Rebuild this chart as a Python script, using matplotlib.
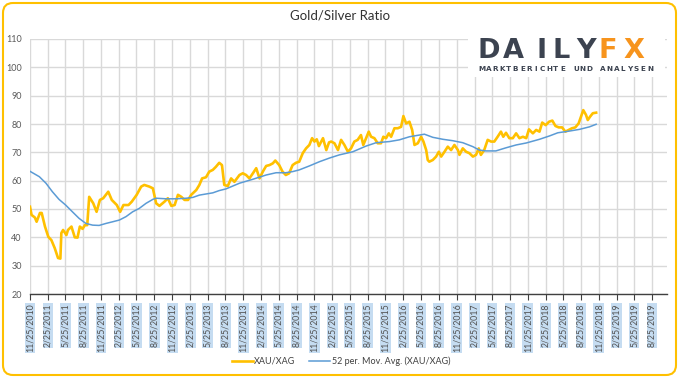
import matplotlib.pyplot as plt
from matplotlib.patches import FancyBboxPatch, Rectangle
from matplotlib.transforms import IdentityTransform
import pandas as pd

# gold/silver ratio
ratio_dates = [
    "2010-11-25", "2010-12-03", "2010-12-20", "2010-12-29", "2011-01-15", "2011-01-24",
    "2011-02-10", "2011-02-27", "2011-03-15", "2011-04-01", "2011-04-18", "2011-04-30",
    "2011-05-05", "2011-05-14", "2011-05-31", "2011-06-08", "2011-06-26", "2011-07-13",
    "2011-07-27", "2011-08-08", "2011-08-22", "2011-09-03", "2011-09-15", "2011-09-25",
    "2011-10-16", "2011-11-02", "2011-11-19", "2011-12-06", "2012-01-01", "2012-01-19",
    "2012-02-14", "2012-03-02", "2012-03-19", "2012-04-14", "2012-05-01", "2012-05-26",
    "2012-06-18", "2012-07-04", "2012-07-30", "2012-08-17", "2012-09-03", "2012-09-20",
    "2012-10-16", "2012-11-02", "2012-11-20", "2012-12-07", "2012-12-24", "2013-01-10",
    "2013-01-27", "2013-02-14", "2013-03-02", "2013-03-28", "2013-04-13", "2013-04-27",
    "2013-05-17", "2013-06-03", "2013-06-21", "2013-07-07", "2013-07-24", "2013-08-07",
    "2013-08-19", "2013-09-06", "2013-09-23", "2013-10-10", "2013-11-05", "2013-11-22",
    "2013-12-09", "2013-12-26", "2014-01-13", "2014-01-30", "2014-02-16", "2014-03-05",
    "2014-03-22", "2014-04-08", "2014-04-25", "2014-05-08", "2014-05-28", "2014-06-14",
    "2014-07-01", "2014-07-18", "2014-08-05", "2014-08-22", "2014-09-08", "2014-09-26",
    "2014-10-13", "2014-10-30", "2014-11-13", "2014-11-25", "2014-12-07", "2014-12-18",
    "2015-01-08", "2015-01-25", "2015-02-08", "2015-02-19", "2015-03-08", "2015-03-26",
    "2015-04-11", "2015-04-28", "2015-05-16", "2015-06-01", "2015-06-18", "2015-07-05",
    "2015-07-22", "2015-08-03", "2015-08-17", "2015-08-31", "2015-09-12", "2015-09-29",
    "2015-10-16", "2015-11-02", "2015-11-14", "2015-11-28", "2015-12-12", "2015-12-24",
    "2016-01-10", "2016-01-27", "2016-02-13", "2016-02-25", "2016-03-10", "2016-03-27",
    "2016-04-10", "2016-04-22", "2016-05-09", "2016-05-26", "2016-06-07", "2016-06-21",
    "2016-06-29", "2016-07-07", "2016-07-25", "2016-08-11", "2016-08-25", "2016-09-06",
    "2016-09-23", "2016-10-10", "2016-10-27", "2016-11-13", "2016-12-01", "2016-12-09",
    "2016-12-26", "2017-01-12", "2017-01-29", "2017-02-16", "2017-03-04", "2017-03-18",
    "2017-03-29", "2017-04-15", "2017-05-03", "2017-05-20", "2017-06-06", "2017-06-23",
    "2017-07-10", "2017-07-22", "2017-08-05", "2017-08-22", "2017-09-09", "2017-09-26",
    "2017-10-13", "2017-10-31", "2017-11-17", "2017-12-01", "2017-12-21", "2018-01-07",
    "2018-01-24", "2018-02-07", "2018-02-25", "2018-03-14", "2018-03-31", "2018-04-16",
    "2018-05-03", "2018-05-20", "2018-06-06", "2018-06-23", "2018-07-10", "2018-07-27",
    "2018-08-13", "2018-08-25", "2018-09-06", "2018-09-20", "2018-09-29", "2018-10-11",
    "2018-10-25", "2018-11-11",
]
ratio_values = [
    50.8, 47.9, 47.0, 45.5, 48.6, 48.6,
    43.8, 40.2, 39.0, 36.2, 32.7, 32.5,
    41.5, 42.6, 40.8, 42.6, 43.8, 40.0,
    39.9, 43.8, 43.0, 44.3, 44.3, 54.3,
    52.0, 49.0, 53.2, 53.8, 56.1, 53.2,
    51.4, 49.0, 51.4, 51.4, 52.6, 55.0,
    57.9, 58.5, 57.9, 57.3, 52.0, 51.1,
    52.6, 53.8, 51.1, 51.4, 55.0, 54.3,
    53.2, 53.2, 55.0, 56.7, 58.5, 60.8,
    61.2, 63.2, 63.8, 64.9, 66.3, 65.5,
    58.5, 58.1, 60.8, 59.6, 62.0, 62.6,
    62.0, 60.8, 62.6, 64.4, 60.8, 63.2,
    65.2, 65.5, 66.1, 67.1, 65.5, 63.2,
    62.0, 62.6, 65.5, 66.3, 66.7, 69.7,
    71.4, 72.6, 75.0, 73.8, 74.6, 72.2,
    75.0, 70.8, 73.5, 73.8, 73.2, 70.8,
    74.4, 72.6, 70.2, 71.4, 73.8, 74.4,
    76.1, 72.6, 75.0, 77.3, 75.5, 75.0,
    73.2, 73.2, 75.5, 75.0, 76.7, 75.5,
    78.5, 78.5, 79.0, 82.8, 80.2, 80.8,
    77.9, 72.6, 73.2, 75.5, 73.8, 70.8,
    67.3, 66.7, 67.3, 68.5, 70.2, 68.5,
    70.2, 72.0, 70.8, 72.6, 70.8, 69.1,
    71.4, 70.2, 69.7, 68.5, 69.1, 71.4,
    69.1, 70.8, 74.4, 73.8, 73.8, 75.5,
    77.3, 75.5, 76.9, 75.0, 75.0, 76.7,
    75.0, 75.5, 75.0, 78.1, 76.7, 77.9,
    77.3, 80.5, 79.6, 80.8, 81.2, 79.3,
    78.8, 78.8, 77.3, 77.9, 78.5, 78.8,
    80.2, 82.6, 84.9, 83.2, 81.4, 82.6,
    83.8, 84.0,
]

# 52 period moving average
ma_dates = [
    "2010-11-25", "2011-01-12", "2011-02-15", "2011-03-20", "2011-04-23", "2011-05-27",
    "2011-07-01", "2011-08-04", "2011-09-08", "2011-10-13", "2011-11-15", "2011-12-20",
    "2012-01-24", "2012-02-27", "2012-04-01", "2012-05-05", "2012-06-08", "2012-07-13",
    "2012-08-17", "2012-09-03", "2012-10-25", "2012-12-15", "2013-02-05", "2013-03-11",
    "2013-04-13", "2013-05-17", "2013-06-21", "2013-07-24", "2013-08-28", "2013-11-05",
    "2014-01-13", "2014-03-22", "2014-05-12", "2014-07-01", "2014-08-05", "2014-09-08",
    "2014-10-30", "2014-12-21", "2015-02-11", "2015-04-02", "2015-06-10", "2015-08-17",
    "2015-10-08", "2015-12-15", "2016-02-04", "2016-03-27", "2016-04-30", "2016-06-12",
    "2016-07-25", "2016-09-15", "2016-11-05", "2016-12-26", "2017-02-16", "2017-03-21",
    "2017-04-24", "2017-06-14", "2017-08-05", "2017-09-26", "2017-11-17", "2018-01-24",
    "2018-03-17", "2018-04-28", "2018-06-26", "2018-08-17", "2018-10-08", "2018-11-11",
]
ma_values = [
    63.3, 61.4, 59.1, 56.1, 53.4, 51.4,
    49.0, 46.7, 44.9, 44.3, 44.2, 44.9,
    45.5, 46.1, 47.3, 49.0, 50.2, 52.0,
    53.4, 53.8, 53.6, 53.6, 53.8, 54.1,
    54.9, 55.3, 55.7, 56.5, 57.1, 59.1,
    60.5, 62.0, 62.8, 62.8, 63.2, 63.8,
    65.2, 66.7, 68.0, 69.1, 70.2, 72.2,
    73.4, 73.8, 74.4, 75.5, 75.9, 76.4,
    75.3, 74.6, 74.1, 73.4, 72.0, 70.8,
    70.5, 70.5, 71.6, 72.6, 73.3, 74.6,
    75.8, 76.9, 77.5, 78.1, 79.0, 79.9,
]

yticks = [20, 30, 40, 50, 60, 70, 80, 90, 100, 110]
tick_dates = [pd.Timestamp(2010, 11, 25) + pd.DateOffset(months=3 * i) for i in range(36)]
tick_labels = [f"{d.month}/{d.day}/{d.year}" for d in tick_dates]

plt.rcParams['font.family'] = ['Lato', 'DejaVu Sans']

fig = plt.figure(figsize=(6.79, 3.78), dpi=100)
ax = fig.add_axes([30 / 679, 1 - 294 / 378, 637 / 679, 255 / 378])

ax.plot(pd.to_datetime(ratio_dates), ratio_values, color='#FFC000', lw=1.9,
        label='XAU/XAG', zorder=3)
ax.plot(pd.to_datetime(ma_dates), ma_values, color='#5B9BD5', lw=1.1,
        label='52 per. Mov. Avg. (XAU/XAG)', zorder=4)

ax.set_ylim(20, 110)
ax.set_yticks(yticks)
ax.set_xlim(pd.Timestamp('2010-11-25'), pd.Timestamp('2019-11-10'))
ax.set_xticks(tick_dates)
ax.set_xticklabels(tick_labels, rotation=90, fontsize=6.3, color='#505050', va='top')
for lbl in ax.get_xticklabels():
    lbl.set_bbox(dict(facecolor='#c5dcf1', edgecolor='none', pad=0.6))
ax.tick_params(axis='y', length=0, labelsize=6.5, labelcolor='#595959', pad=6)
ax.tick_params(axis='x', length=4, width=0.8, color='#404040', pad=3)

ax.grid(True, color='#d9d9d9', lw=1)
ax.set_axisbelow(True)
for s in ['top', 'right', 'left']:
    ax.spines[s].set_visible(False)
ax.spines['bottom'].set_color('#404040')
ax.spines['bottom'].set_linewidth(1)

fig.text(0.5, 1 - 16 / 378, 'Gold/Silver Ratio', ha='center', va='center',
         fontsize=9.5, color='#333333')

fig.legend(loc='center', bbox_to_anchor=(341 / 679, 1 - 361 / 378), ncol=2,
           frameon=False, fontsize=6.5, handlelength=2.3, handletextpad=0.2,
           columnspacing=1.5, labelcolor='#404040')

# logo box
fig.patches.append(Rectangle((468, 378 - 77), 197, 40, transform=IdentityTransform(),
                             facecolor='white', edgecolor='none', zorder=5))
logo = [('D', 489, '#3c4350'), ('A', 513, '#3c4350'), ('I', 542, '#3c4350'),
        ('L', 561, '#3c4350'), ('Y', 586, '#3c4350'), ('F', 608, '#f7941d'),
        ('X', 634, '#f7941d')]
for ch, px, col in logo:
    fig.text(px / 679, 1 - 51 / 378, ch, ha='center', va='center', fontsize=19.5,
             fontweight='heavy', color=col, family='DejaVu Sans', zorder=6)
sub = 'MARKTBERICHTE UND ANALYSEN'
for i, ch in enumerate(sub):
    fig.text((482 + i * 168 / (len(sub) - 1)) / 679, 1 - 69 / 378, ch, ha='center',
             va='center', fontsize=5.2, fontweight='bold', color='#3c4350',
             family='DejaVu Sans', zorder=6)

# rounded frame
fig.patches.append(FancyBboxPatch((3, 3), 673, 372, boxstyle='round,pad=0,rounding_size=10',
                                  transform=IdentityTransform(), facecolor='none',
                                  edgecolor='#FFC000', lw=1.5, zorder=10))

fig.savefig('out.png', dpi=100)
